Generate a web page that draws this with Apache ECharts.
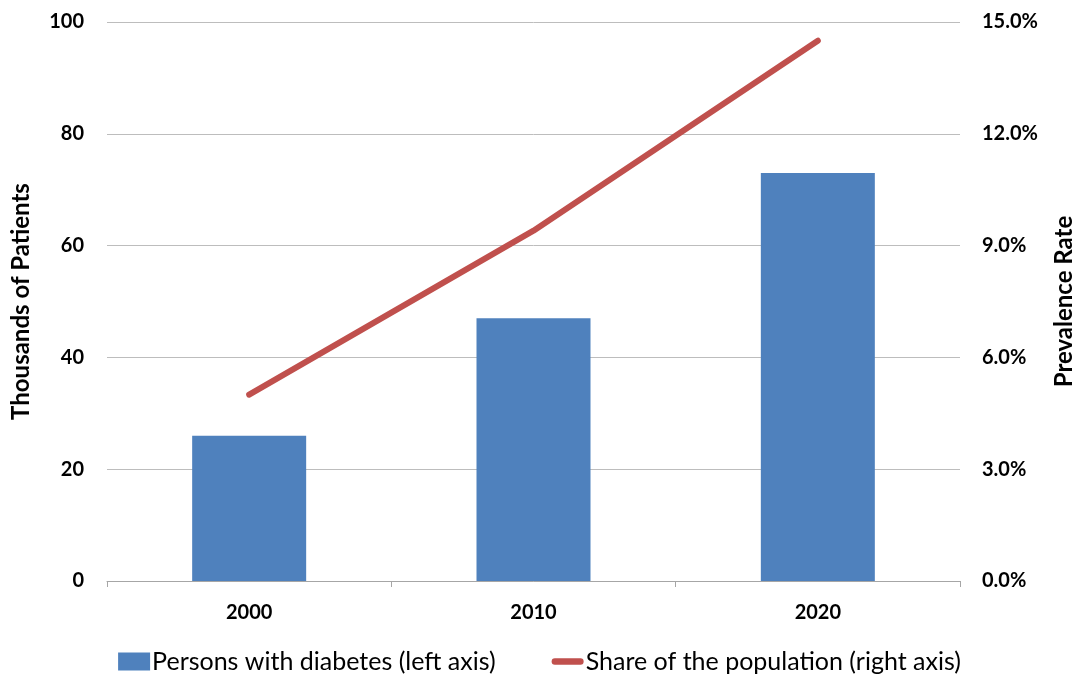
<!DOCTYPE html>
<html><head><meta charset="utf-8">
<script src="https://cdn.jsdelivr.net/npm/echarts@6/dist/echarts.min.js"></script>
<style>html,body{margin:0;padding:0;background:#fff}#c{width:1079px;height:681px}</style>
</head><body><div id="c"></div>
<script>
var categories = ['2000', '2010', '2020'];
var patients = [26, 47, 73];
var prevalence = [5.0, 9.4, 14.5];
var leftTicks = [0, 20, 40, 60, 80, 100];
var rightTicks = [0, 3, 6, 9, 12, 15];

var FONT = 'Lato';
var chart = echarts.init(document.getElementById('c'), null, {renderer: 'canvas'});
chart.setOption({
  animation: false,
  textStyle: {fontFamily: FONT},
  grid: {left: 107, right: 119, top: 22, bottom: 100, containLabel: false, outerBoundsMode: 'none'},
  legend: {
    bottom: 2, left: 'center', itemGap: 56, itemWidth: 32, itemHeight: 18,
    textStyle: {fontFamily: FONT, fontSize: 25, color: '#000', padding: [0,0,0,-3]},
    data: [
      {name: 'Persons with diabetes (left axis)', icon: 'rect'},
      {name: 'Share of the population (right axis)',
       icon: 'path://M4,0 L36,0 A4,4 0 0 1 36,8 L4,8 A4,4 0 0 1 4,0 Z',
       itemStyle: {color: '#C0504D'}}
    ]
  },
  xAxis: {
    type: 'category', data: categories, boundaryGap: true,
    axisLine: {lineStyle: {color: '#A6A6A6', width: 1}},
    axisTick: {show: true, alignWithLabel: false, length: 6, lineStyle: {color: '#A6A6A6'}},
    axisLabel: {fontFamily: FONT, fontSize: 20, fontWeight: 'bold', color: '#000', margin: 22}
  },
  yAxis: [{
    type: 'value', min: 0, max: 100, interval: 20,
    name: 'Thousands of Patients', nameLocation: 'middle', nameGap: 74, nameRotate: 90,
    nameTextStyle: {fontFamily: FONT, fontSize: 24, fontWeight: 'bold', color: '#000'},
    axisLine: {show: false}, axisTick: {show: false},
    axisLabel: {fontFamily: FONT, fontSize: 20, fontWeight: 'bold', color: '#000', margin: 23},
    splitLine: {lineStyle: {color: '#BDBDBD', width: 1}}
  }, {
    type: 'value', min: 0, max: 15, interval: 3, position: 'right',
    name: 'Prevalence Rate', nameLocation: 'middle', nameGap: 92, nameRotate: 90,
    nameTextStyle: {fontFamily: FONT, fontSize: 24, fontWeight: 'bold', color: '#000'},
    axisLine: {show: false}, axisTick: {show: false},
    axisLabel: {fontFamily: FONT, fontSize: 20, fontWeight: 'bold', color: '#000', margin: 22,
      formatter: function(v){ return v.toFixed(1) + '%'; }},
    splitLine: {show: false}
  }],
  series: [{
    name: 'Persons with diabetes (left axis)', type: 'bar', yAxisIndex: 0,
    data: patients, barWidth: 114, itemStyle: {color: '#4F81BD'}
  }, {
    name: 'Share of the population (right axis)', type: 'line', yAxisIndex: 1,
    data: prevalence, symbol: 'none', smooth: false,
    lineStyle: {color: '#C0504D', width: 6, cap: 'round', join: 'round'},
    itemStyle: {color: '#C0504D'}
  }]
});
</script></body></html>
